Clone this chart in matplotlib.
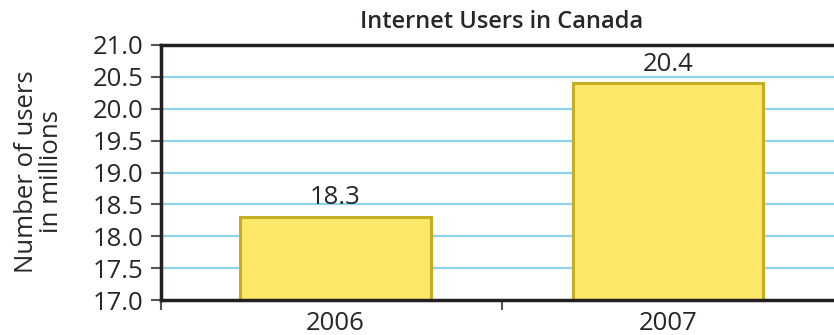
import matplotlib
matplotlib.use("Agg")
import matplotlib.pyplot as plt
from matplotlib.ticker import FixedLocator

years = ["2006", "2007"]
users = [18.3, 20.4]
yticks = [17.0, 17.5, 18.0, 18.5, 19.0, 19.5, 20.0, 20.5, 21.0]

plt.rcParams['font.family'] = ['Open Sans', 'DejaVu Sans']
TXT = "#2a2627"

fig = plt.figure(figsize=(8.34, 3.35), dpi=100)
ax = fig.add_axes([161/834, 35/335, 1 - 161/834, 255/335])

x = list(range(len(years)))
ax.bar(x, users, width=0.572, color="#FFE76A", edgecolor="#C4AE24",
       linewidth=2.2, zorder=3)

for xi, v in zip(x, users):
    ax.text(xi, v + 0.2, f"{v}", ha="center", va="baseline", fontsize=18.5,
            color=TXT, zorder=4)

ax.set_xlim(-0.525, 1.5)
ax.set_ylim(17.0, 21.0)
ax.set_yticks(yticks)
ax.set_yticklabels([f"{t:.1f}" for t in yticks])
for t in yticks[1:-1]:
    ax.axhline(t, color="#8ed3ee", linewidth=1.6, zorder=1)

ax.xaxis.set_major_locator(FixedLocator([-0.525, 0.5]))
ax.set_xticklabels([])
ax.xaxis.set_minor_locator(FixedLocator(x))
ax.set_xticklabels(years, minor=True)
ax.tick_params(axis="x", which="minor", length=0, labelsize=18.5, pad=8,
               labelcolor=TXT)
ax.tick_params(axis="x", which="major", length=7.5, width=1.5, color="#555555")
ax.tick_params(axis="y", length=7.5, width=1.5, color="#555555", labelsize=18.5,
               labelcolor=TXT, pad=5)

for s in ["left", "top", "bottom"]:
    ax.spines[s].set_linewidth(2.5)
    ax.spines[s].set_color("#231f20")
    ax.spines[s].set_zorder(5)
ax.spines["right"].set_visible(False)

fig.text(39/834, 1 - 172/335, "Number of users\nin millions", rotation=90,
         ha="center", va="center", fontsize=18.5, color=TXT, linespacing=0.95,
         multialignment="center")
fig.text(0.601, 0.934, "Internet Users in Canada", ha="center", va="center",
         fontsize=17, color=TXT, fontweight="semibold")

fig.savefig("out.png", dpi=100)
